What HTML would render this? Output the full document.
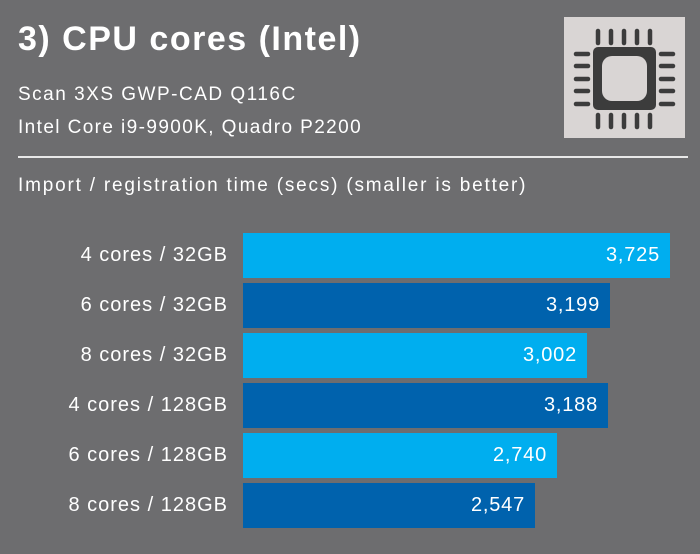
<!DOCTYPE html>
<html><head><style>
body{margin:0;width:700px;height:554px;background:#6d6d6f;font-family:"Liberation Sans",sans-serif;color:#fff;position:relative;overflow:hidden}
.t{position:absolute;white-space:nowrap}
.bar{position:absolute;left:243px;height:45px}
.lab{position:absolute;right:472px;font-size:20px;line-height:45px;white-space:nowrap;letter-spacing:1px}
.v{position:absolute;right:10px;top:0;line-height:45px;font-size:20px;letter-spacing:0.8px}
</style></head><body>
<div class="t" style="left:18px;top:20px;font-size:34px;font-weight:bold;letter-spacing:1.5px">3) CPU cores (Intel)</div>
<div class="t" style="left:18px;top:84px;font-size:19px;letter-spacing:1.5px">Scan 3XS GWP-CAD Q116C</div>
<div class="t" style="left:18px;top:117px;font-size:19px;letter-spacing:1.4px">Intel Core i9-9900K, Quadro P2200</div>
<div style="position:absolute;left:18px;top:156px;width:670px;height:2px;background:#e8e8e8"></div>
<div class="t" style="left:18px;top:175px;font-size:19px;letter-spacing:1.8px">Import / registration time (secs) (smaller is better)</div>
<svg style="position:absolute;left:564px;top:17px" width="121" height="121" viewBox="0 0 121 121">
<rect width="121" height="121" fill="#d9d5d4"/>
<rect x="29" y="30" width="63" height="63" rx="5" fill="#3c3c3c"/>
<rect x="38" y="39" width="45" height="45" rx="10" fill="#d9d5d4"/>
<g stroke="#3c3c3c" stroke-width="4.5" stroke-linecap="round">
<line x1="34" y1="14" x2="34" y2="26"/><line x1="47" y1="14" x2="47" y2="26"/><line x1="60" y1="14" x2="60" y2="26"/><line x1="73" y1="14" x2="73" y2="26"/><line x1="86" y1="14" x2="86" y2="26"/>
<line x1="34" y1="98" x2="34" y2="110"/><line x1="47" y1="98" x2="47" y2="110"/><line x1="60" y1="98" x2="60" y2="110"/><line x1="73" y1="98" x2="73" y2="110"/><line x1="86" y1="98" x2="86" y2="110"/>
<line x1="12" y1="37" x2="24" y2="37"/><line x1="12" y1="49" x2="24" y2="49"/><line x1="12" y1="62" x2="24" y2="62"/><line x1="12" y1="74" x2="24" y2="74"/><line x1="12" y1="87" x2="24" y2="87"/>
<line x1="97" y1="37" x2="109" y2="37"/><line x1="97" y1="49" x2="109" y2="49"/><line x1="97" y1="62" x2="109" y2="62"/><line x1="97" y1="74" x2="109" y2="74"/><line x1="97" y1="87" x2="109" y2="87"/>
</g></svg>

<div class="lab" style="top:233px">4 cores / 32GB</div>
<div class="bar" style="top:233px;width:427px;background:#00aeef"><span class="v">3,725</span></div>
<div class="lab" style="top:283px">6 cores / 32GB</div>
<div class="bar" style="top:283px;width:367px;background:#0062ad"><span class="v">3,199</span></div>
<div class="lab" style="top:333px">8 cores / 32GB</div>
<div class="bar" style="top:333px;width:344px;background:#00aeef"><span class="v">3,002</span></div>
<div class="lab" style="top:383px">4 cores / 128GB</div>
<div class="bar" style="top:383px;width:365px;background:#0062ad"><span class="v">3,188</span></div>
<div class="lab" style="top:433px">6 cores / 128GB</div>
<div class="bar" style="top:433px;width:314px;background:#00aeef"><span class="v">2,740</span></div>
<div class="lab" style="top:483px">8 cores / 128GB</div>
<div class="bar" style="top:483px;width:292px;background:#0062ad"><span class="v">2,547</span></div>
</body></html>
